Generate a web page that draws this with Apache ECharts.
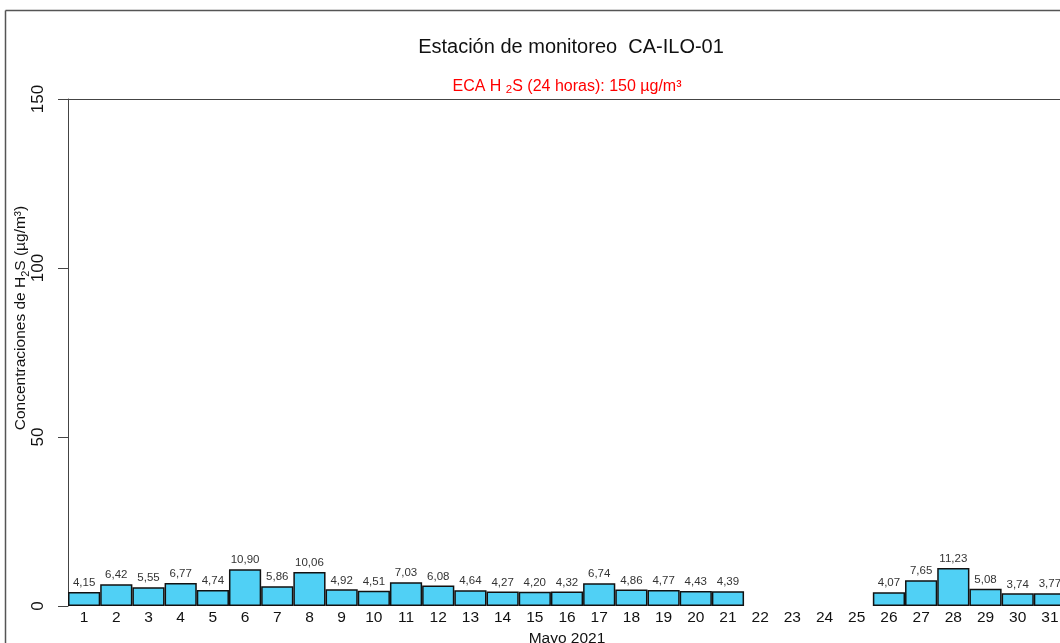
<!DOCTYPE html>
<html>
<head>
<meta charset="utf-8">
<script src="https://cdn.jsdelivr.net/npm/echarts@6/dist/echarts.min.js"></script>
<style>
  html, body { margin: 0; padding: 0; background: #fff; }
  #main { width: 1060px; height: 643px; }
</style>
</head>
<body>
<div id="main"></div>
<script>
// datos del grafico
var dias = [];
for (var d = 1; d <= 31; d++) { dias.push(String(d)); }
var concentraciones = [4.15, 6.42, 5.55, 6.77, 4.74, 10.90, 5.86, 10.06, 4.92, 4.51,
    7.03, 6.08, 4.64, 4.27, 4.20, 4.32, 6.74, 4.86, 4.77, 4.43,
    4.39, null, null, null, null, 4.07, 7.65, 11.23, 5.08, 3.74, 3.77];
var ecaValor = 150;
var yTicks = [0, 50, 100, 150];

var fuente = 'Liberation Sans, Arial, sans-serif';
var myChart = echarts.init(document.getElementById('main'));

var option = {
    animation: false,
    textStyle: { fontFamily: fuente },
    title: {
        text: 'Estación de monitoreo  CA-ILO-01',
        left: 566,
        top: 32,
        textAlign: 'center',
        textStyle: { fontFamily: fuente, fontSize: 20, fontWeight: 'normal', color: '#111' }
    },
    grid: { left: 68, top: 99, width: 998, height: 507, outerBoundsMode: 'none', containLabel: false },
    xAxis: {
        type: 'category',
        data: dias,
        axisLine: { show: false },
        axisTick: { show: false },
        axisLabel: { color: '#111', fontSize: 15.5, margin: 4, interval: 0 },
        name: 'Mayo 2021',
        nameLocation: 'middle',
        nameGap: 23,
        nameTextStyle: { color: '#111', fontSize: 15.5 }
    },
    yAxis: {
        type: 'value',
        min: yTicks[0],
        max: yTicks[yTicks.length - 1],
        interval: 50,
        splitLine: { show: false },
        axisLine: { show: true, lineStyle: { color: '#444', width: 1 } },
        axisTick: { show: true, length: 10, lineStyle: { color: '#444' } },
        axisLabel: { color: '#111', fontSize: 17, rotate: 90, margin: 30, align: 'center', verticalAlign: 'middle' }
    },
    graphic: [
        { type: 'line', shape: { x1: 5.5, y1: 10.5, x2: 1060, y2: 10.5 }, style: { stroke: '#555', lineWidth: 1.5 } },
        { type: 'line', shape: { x1: 5.5, y1: 10.5, x2: 5.5, y2: 643 }, style: { stroke: '#555', lineWidth: 1.5 } },
        {
            type: 'text',
            x: 21,
            y: 318,
            rotation: Math.PI / 2,
            style: {
                text: '{n|Concentraciones de H}{s|2}{n|S (µg/m³)}',
                align: 'center',
                verticalAlign: 'middle',
                fill: '#111',
                rich: {
                    n: { fontSize: 15.5, fontFamily: fuente, fill: '#111' },
                    s: { fontSize: 11, fontFamily: fuente, fill: '#111', padding: [9, 0, 0, 0] }
                }
            }
        }
    ],
    series: [{
        type: 'bar',
        data: concentraciones,
        barCategoryGap: 0,
        itemStyle: { color: '#50D0F5', borderColor: '#111', borderWidth: 1.5 },
        label: {
            show: true,
            position: 'top',
            distance: 3,
            fontSize: 11.5,
            color: '#333',
            formatter: function (p) {
                return p.value == null ? '' : p.value.toFixed(2).replace('.', ',');
            }
        },
        markLine: {
            silent: true,
            symbol: 'none',
            lineStyle: { color: '#444', type: 'solid', width: 1.2 },
            label: {
                show: true,
                position: 'middle',
                distance: 3,
                formatter: '{n|ECA H }{s|2}{n|S (24 horas): 150 µg/m³}',
                rich: {
                    n: { color: '#ff0000', fontSize: 16, fontFamily: fuente },
                    s: { color: '#ff0000', fontSize: 11.5, fontFamily: fuente, padding: [7, 0, 0, 0] }
                }
            },
            data: [{ yAxis: ecaValor }]
        }
    }]
};

myChart.setOption(option);
</script>
</body>
</html>
